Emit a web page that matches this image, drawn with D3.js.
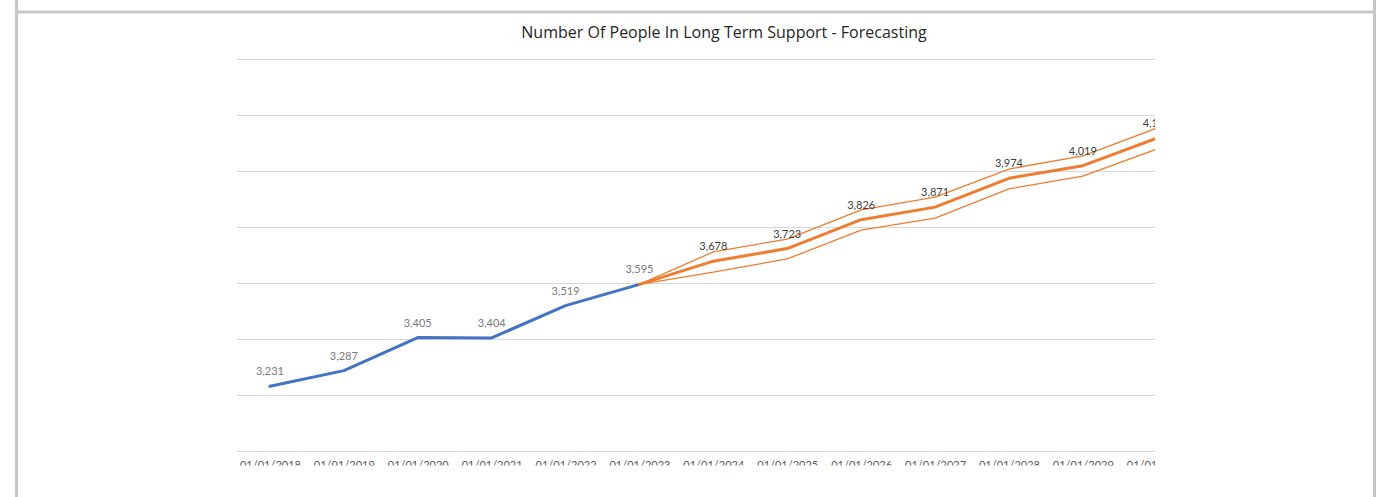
<!DOCTYPE html>
<html>
<head>
<meta charset="utf-8">
<script src="https://cdn.jsdelivr.net/npm/d3@7"></script>
<style>
  html, body { margin: 0; padding: 0; background: #fff; }
  svg { display: block; }
</style>
</head>
<body>
<svg id="chart" width="1389" height="497"></svg>
<script>
const title = "Number Of People In Long Term Support - Forecasting";
const categories = ["01/01/2018","01/01/2019","01/01/2020","01/01/2021","01/01/2022","01/01/2023",
  "01/01/2024","01/01/2025","01/01/2026","01/01/2027","01/01/2028","01/01/2029","01/01/2030"];
const actual   = [3231, 3287, 3405, 3404, 3519, 3595, null, null, null, null, null, null, null];
const forecast = [null, null, null, null, null, 3595, 3678, 3723, 3826, 3871, 3974, 4019, 4117];
const upper    = [null, null, null, null, null, 3595, 3711, 3757, 3861, 3907, 4007, 4054, 4153];
const lower    = [null, null, null, null, null, 3595, 3639, 3686, 3789, 3832, 3936, 3982, 4078];
const yTicks   = [3000, 3200, 3400, 3600, 3800, 4000, 4200, 4400];
const forecastLabelFrom = 6;

const svg = d3.select("#chart");
const W = 1389, H = 497;
const FONT = "Lato, 'Open Sans', sans-serif";

// outer frame (screenshot borders)
svg.append("line").attr("x1", 16.5).attr("x2", 16.5).attr("y1", 0).attr("y2", H)
  .attr("stroke", "#c6c6c6").attr("stroke-width", 3);
svg.append("line").attr("x1", 1374.5).attr("x2", 1374.5).attr("y1", 0).attr("y2", H)
  .attr("stroke", "#c6c6c6").attr("stroke-width", 3);
svg.append("line").attr("x1", 16).attr("x2", 1375).attr("y1", 12).attr("y2", 12)
  .attr("stroke", "#c6c6c6").attr("stroke-width", 3);

// title
const t = svg.append("text").attr("x", 724).attr("y", 38).attr("text-anchor", "middle")
  .attr("font-family", "'Open Sans', Lato, sans-serif").attr("font-size", 15)
  .attr("fill", "#262626").text(title);
// fit the title to the reference width
const tw = t.node().getComputedTextLength();
if (tw > 0) t.attr("font-size", Math.min(16.5, 15 * 406 / tw));

// clip region
svg.append("defs").append("clipPath").attr("id", "clip")
  .append("rect").attr("x", 0).attr("y", 0).attr("width", 1155).attr("height", 465.5);

const plotLeft = 233, step = 73.9;
const x = d3.scalePoint().domain(categories)
  .range([plotLeft + step / 2, plotLeft + step / 2 + step * (categories.length - 1)]);
const y = d3.scaleLinear().domain([3000, 4400]).range([451, 59]);

const g = svg.append("g").attr("clip-path", "url(#clip)");

// gridlines
g.append("g").selectAll("line").data(yTicks).join("line")
  .attr("x1", 237).attr("x2", 1200)
  .attr("y1", d => Math.round(y(d)) + 0.5).attr("y2", d => Math.round(y(d)) + 0.5)
  .attr("stroke", "#d9d9d9").attr("stroke-width", 1);

// x axis labels
const xAxis = d3.axisBottom(x).tickSize(0).tickPadding(0);
const ax = g.append("g").attr("transform", "translate(0,461.5)").call(xAxis);
ax.select(".domain").remove();
ax.selectAll("text").attr("font-family", FONT).attr("font-size", 11)
  .attr("fill", "#595959").attr("dy", "0.71em");

const line = d3.line()
  .defined(d => d != null)
  .x((d, i) => x(categories[i]))
  .y(d => y(d));

function drawLine(data, color, width) {
  g.append("path").datum(data).attr("fill", "none").attr("stroke", color)
    .attr("stroke-width", width).attr("stroke-linejoin", "round").attr("stroke-linecap", "round")
    .attr("d", line);
}
drawLine(upper, "#ED7D31", 1.3);
drawLine(lower, "#ED7D31", 1.3);
drawLine(actual, "#4472C4", 3);
drawLine(forecast, "#ED7D31", 3);

function drawLabels(data, color, fromIdx) {
  const pts = data.map((v, i) => ({ v, i })).filter(d => d.v != null && d.i >= fromIdx);
  g.append("g").selectAll("text").data(pts).join("text")
    .attr("x", d => x(categories[d.i]))
    .attr("y", d => y(d.v) - 11)
    .attr("text-anchor", "middle")
    .attr("font-family", FONT).attr("font-size", 11).attr("fill", color)
    .text(d => d3.format(",")(d.v));
}
drawLabels(actual, "#7a7a7a", 0);
drawLabels(forecast, "#404040", forecastLabelFrom);
</script>
</body>
</html>
